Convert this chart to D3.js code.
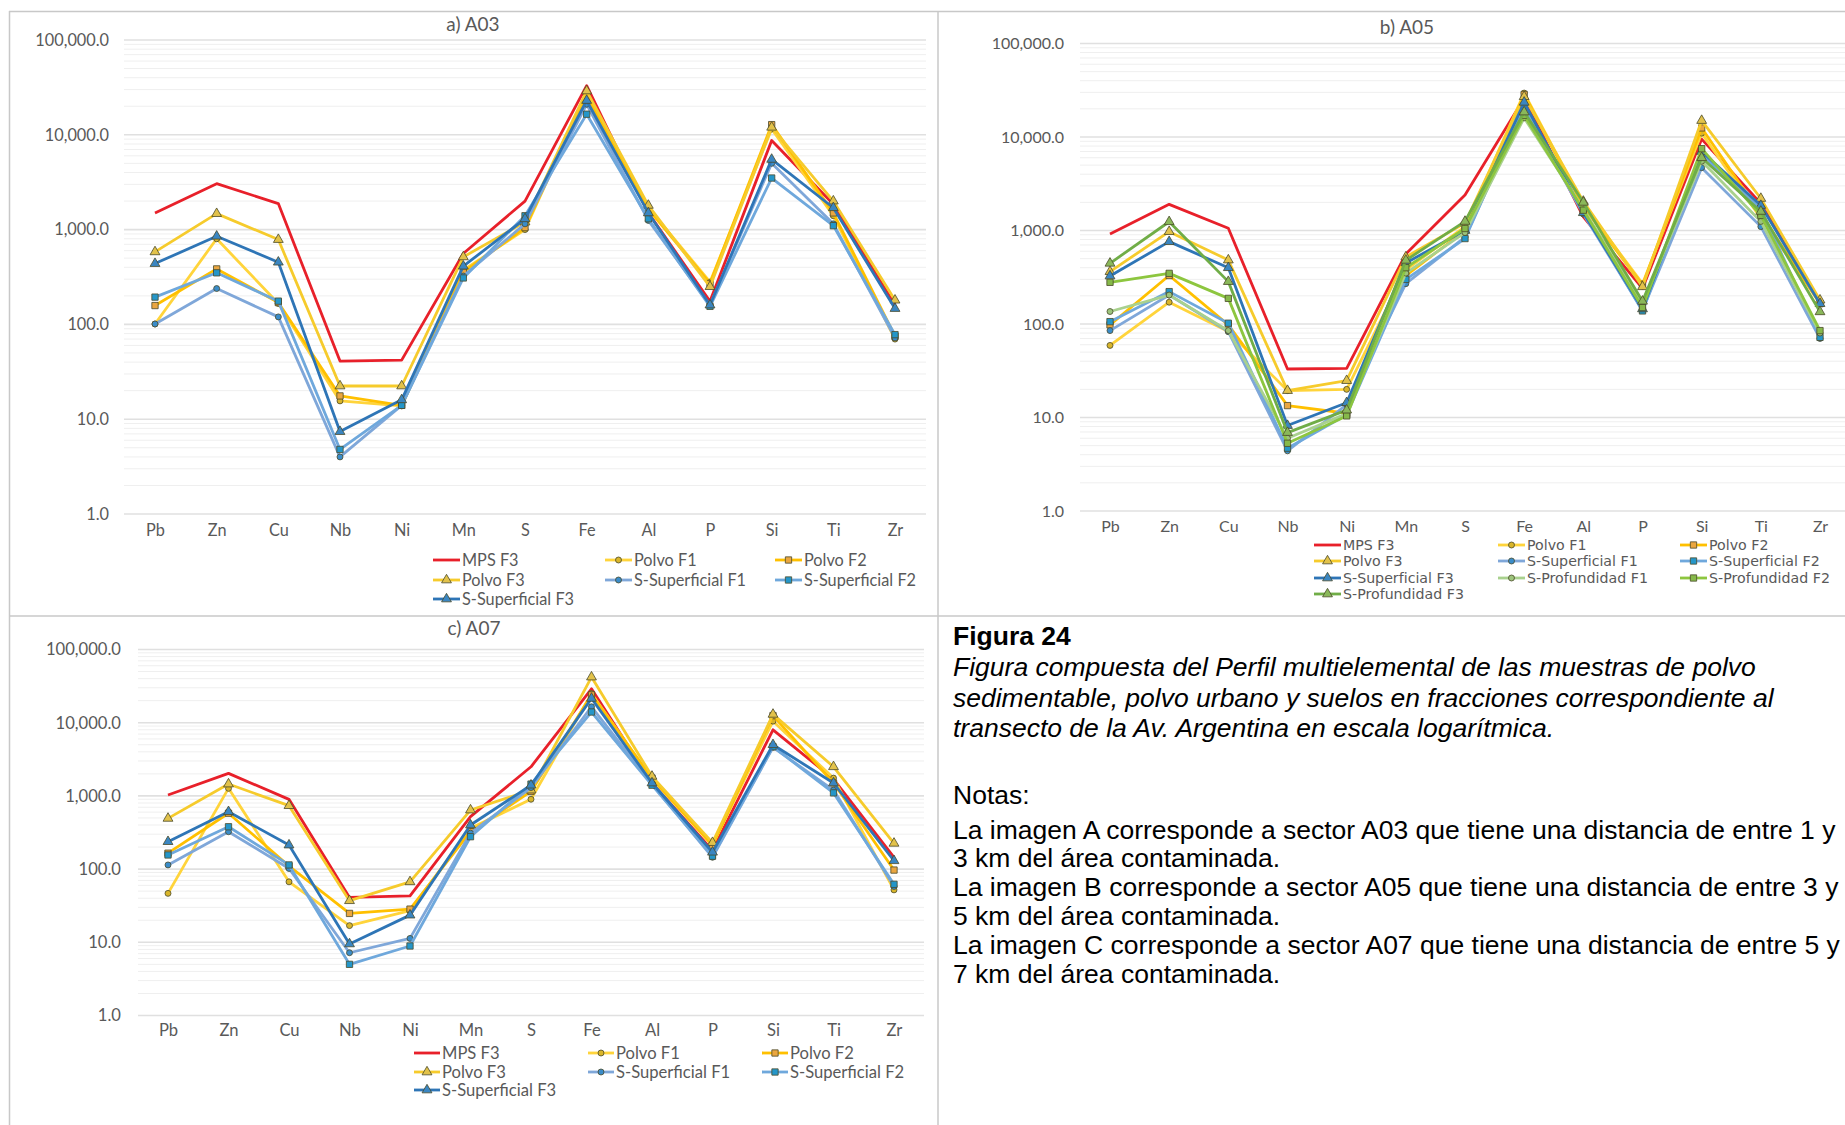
<!DOCTYPE html>
<html lang="es">
<head>
<meta charset="UTF-8">
<title>Figura 24</title>
<script src="https://d3js.org/d3.v7.min.js"></script>
<style>
  body { margin: 0; background: #fff; }
  svg { display: block; }
</style>
</head>
<body>
<svg id="fig" width="1845" height="1125"></svg>
<script>

// ---- data (mg/kg) ----
const elements = ['Pb', 'Zn', 'Cu', 'Nb', 'Ni', 'Mn', 'S', 'Fe', 'Al', 'P', 'Si', 'Ti', 'Zr'];
const yTicks = [1, 10, 100, 1000, 10000, 100000];

// a) A03
const a03_mps_f3   = [1500, 3050, 1880, 41, 42, 560, 2000, 33000, 1500, 175, 8700, 1850, 160];
const a03_polvo_f1 = [101, 800, 166, 15.6, 13.8, 373, 1000, 27000, 1700, 280, 11500, 1400, 70];
const a03_polvo_f2 = [158, 385, 170, 17.6, 14, 355, 1050, 26000, 1650, 270, 12800, 1500, 75];
const a03_polvo_f3 = [582, 1473, 785, 22.4, 22.4, 515, 1200, 29000, 1800, 250, 12000, 2000, 180];
const a03_ssup_f1  = [101, 239, 120, 4.0, 14, 324, 1150, 21000, 1250, 160, 5000, 1150, 72];
const a03_ssup_f2  = [194, 350, 176, 4.8, 14, 309, 1400, 16500, 1300, 155, 3500, 1100, 78];
const a03_ssup_f3  = [438, 851, 453, 7.4, 16, 411, 1300, 23000, 1500, 160, 5500, 1700, 147];

// b) A05
const a05_mps_f3   = [918, 1905, 1055, 33, 33.6, 560, 2400, 26000, 1400, 240, 9500, 1950, 175];
const a05_polvo_f1 = [59, 171, 83, 19.4, 20, 380, 1100, 29500, 1900, 270, 11000, 1350, 170];
const a05_polvo_f2 = [98, 330, 98, 13.4, 11.1, 330, 1000, 28500, 1800, 260, 12500, 1500, 165];
const a05_polvo_f3 = [363, 972, 483, 19.4, 24.8, 520, 1200, 27000, 2050, 250, 15000, 2200, 180];
const a05_ssup_f1  = [85, 204, 83, 4.4, 13.7, 270, 850, 20000, 1500, 140, 4700, 1100, 70];
const a05_ssup_f2  = [106, 222, 102, 4.7, 10.7, 300, 820, 21500, 1600, 138, 6500, 1700, 72];
const a05_ssup_f3  = [326, 760, 400, 8.2, 14.4, 450, 1000, 23500, 1550, 145, 7000, 1850, 165];
const a05_sprof_f1 = [136, 204, 85, 6.0, 11, 350, 950, 16000, 1700, 165, 5500, 1250, 80];
const a05_sprof_f2 = [279, 348, 188, 5.3, 10.4, 400, 1050, 17000, 1650, 150, 7500, 1450, 85];
const a05_sprof_f3 = [446, 1240, 284, 6.9, 12, 480, 1250, 18500, 2000, 175, 6000, 1600, 135];

// c) A07
const a07_mps_f3   = [1028, 2030, 897, 41, 43, 520, 2500, 29000, 1500, 180, 8000, 1700, 145];
const a07_polvo_f1 = [46.6, 1268, 67, 16.9, 27, 360, 900, 25000, 1700, 215, 10500, 1750, 52];
const a07_polvo_f2 = [165, 580, 110, 24.8, 28.4, 324, 1150, 24000, 1750, 210, 12500, 1500, 97];
const a07_polvo_f3 = [493, 1452, 735, 37, 67, 641, 1200, 42000, 1850, 230, 13000, 2500, 225];
const a07_ssup_f1  = [114, 324, 102, 7.2, 11.3, 310, 1300, 16500, 1450, 145, 4600, 1200, 58];
const a07_ssup_f2  = [156, 379, 114, 5.0, 8.9, 277, 1450, 14000, 1400, 150, 4700, 1100, 62];
const a07_ssup_f3  = [237, 608, 213, 9.5, 23.5, 400, 1400, 21500, 1500, 170, 5000, 1500, 130];

// ---- look of each series ----
const style = {
    'MPS F3':           { line: '#e8202a', marker: null },
    'Polvo F1':         { line: '#ffd43b', marker: d3.symbolCircle,   fill: '#d9b52a', size: 28 },
    'Polvo F2':         { line: '#ffc000', marker: d3.symbolSquare,   fill: '#eaa640', size: 40 },
    'Polvo F3':         { line: '#f6cb2c', marker: d3.symbolTriangle, fill: '#e2c24a', size: 42 },
    'S-Superficial F1': { line: '#7fa7d9', marker: d3.symbolCircle,   fill: '#3a8cc9', size: 28 },
    'S-Superficial F2': { line: '#6fa8dc', marker: d3.symbolSquare,   fill: '#2496c9', size: 40 },
    'S-Superficial F3': { line: '#2e75b6', marker: d3.symbolTriangle, fill: '#3a86c2', size: 42 },
    'S-Profundidad F1': { line: '#a9d18e', marker: d3.symbolCircle,   fill: '#9cc47c', size: 28 },
    'S-Profundidad F2': { line: '#8dc63f', marker: d3.symbolSquare,   fill: '#86b94a', size: 40 },
    'S-Profundidad F3': { line: '#70ad47', marker: d3.symbolTriangle, fill: '#8ab85a', size: 42 }
};

const svg = d3.select('#fig');
svg.append('rect').attr('width', 1845).attr('height', 1125).attr('fill', '#fff');

// panel frame
const frame = svg.append('g').attr('stroke', '#c8c8c8').attr('stroke-width', 1.5);
frame.append('line').attr('x1', 9).attr('x2', 1845).attr('y1', 11.5).attr('y2', 11.5);
frame.append('line').attr('x1', 9).attr('x2', 1845).attr('y1', 616).attr('y2', 616);
frame.append('line').attr('x1', 9.5).attr('x2', 9.5).attr('y1', 11).attr('y2', 1125);
frame.append('line').attr('x1', 938).attr('x2', 938).attr('y1', 11).attr('y2', 1125);

function drawChart(cfg) {
    const g = svg.append('g');
    const x = d3.scalePoint().domain(elements).range(cfg.xRange);
    const y = d3.scaleLog().domain([1, 100000]).range(cfg.yRange);

    // minor gridlines (2..9 within each decade)
    const minor = [];
    yTicks.slice(0, -1).forEach(t => { for (let m = 2; m <= 9; m++) minor.push(t * m); });
    g.append('g').selectAll('line').data(minor).join('line')
        .attr('x1', cfg.gridX[0]).attr('x2', cfg.gridX[1])
        .attr('y1', d => y(d)).attr('y2', d => y(d))
        .attr('stroke', '#efefef').attr('stroke-width', 1);
    g.append('g').selectAll('line').data(yTicks).join('line')
        .attr('x1', cfg.gridX[0]).attr('x2', cfg.gridX[1])
        .attr('y1', d => y(d)).attr('y2', d => y(d))
        .attr('stroke', '#e0e0e0').attr('stroke-width', 1.6);

    // axes (labels only)
    const ya = g.append('g').attr('transform', `translate(${cfg.labelX},0)`)
        .call(d3.axisLeft(y).tickValues(yTicks).tickFormat(d3.format(',.1f')).tickSize(0).tickPadding(0));
    const xa = g.append('g').attr('transform', `translate(0,${cfg.xLabelY})`)
        .call(d3.axisBottom(x).tickSize(0).tickPadding(0));
    [ya, xa].forEach(a => {
        a.select('.domain').remove();
        a.selectAll('text').attr('fill', '#595959').style('font-family', 'Lato')
            .style('font-size', cfg.fontSize + 'px');
    });

    // title
    g.append('text').attr('x', cfg.title[1]).attr('y', cfg.title[2])
        .attr('text-anchor', 'middle').attr('fill', '#595959')
        .style('font-family', 'Lato').style('font-size', '19px').text(cfg.title[0]);

    // series
    const line = d3.line().x((d, i) => x(elements[i])).y(d => y(d));
    cfg.series.forEach(s => {
        const st = style[s.name];
        g.append('path').datum(s.values).attr('d', line)
            .attr('fill', 'none').attr('stroke', st.line).attr('stroke-width', 2.8)
            .attr('stroke-linejoin', 'round');
        if (st.marker) {
            g.append('g').selectAll('path').data(s.values).join('path')
                .attr('transform', (d, i) => `translate(${x(elements[i])},${y(d)})`)
                .attr('d', d3.symbol().type(st.marker).size(st.size))
                .attr('fill', st.fill).attr('stroke', '#4a4a2a').attr('stroke-width', 0.8);
        }
    });

    // legend
    const lg = g.append('g');
    cfg.series.forEach((s, i) => {
        const st = style[s.name];
        const lx = cfg.legend.cols[i % 3], ly = cfg.legend.rows[Math.floor(i / 3)];
        lg.append('line').attr('x1', lx).attr('x2', lx + cfg.legend.len)
            .attr('y1', ly).attr('y2', ly).attr('stroke', st.line).attr('stroke-width', 2.8);
        if (st.marker) {
            lg.append('path').attr('transform', `translate(${lx + cfg.legend.len / 2},${ly})`)
                .attr('d', d3.symbol().type(st.marker).size(st.size))
                .attr('fill', st.fill).attr('stroke', '#4a4a2a').attr('stroke-width', 0.8);
        }
        lg.append('text').attr('x', lx + cfg.legend.len + 2).attr('y', ly).attr('dy', '0.35em')
            .attr('fill', '#595959').style('font-family', cfg.legend.font)
            .style('font-size', cfg.legend.size + 'px').text(s.name);
    });
}

drawChart({
    title: ['a) A03', 473, 31],
    xRange: [155, 895], yRange: [514, 40], gridX: [124, 926],
    labelX: 109, xLabelY: 524, fontSize: 16.3,
    series: [
        { name: 'MPS F3', values: a03_mps_f3 },
        { name: 'Polvo F1', values: a03_polvo_f1 },
        { name: 'Polvo F2', values: a03_polvo_f2 },
        { name: 'Polvo F3', values: a03_polvo_f3 },
        { name: 'S-Superficial F1', values: a03_ssup_f1 },
        { name: 'S-Superficial F2', values: a03_ssup_f2 },
        { name: 'S-Superficial F3', values: a03_ssup_f3 }
    ],
    legend: { cols: [433, 605, 775], rows: [560, 580, 599], len: 27, font: 'Lato', size: 16.3 }
});

drawChart({
    title: ['b) A05', 1407, 34],
    xRange: [1110, 1820], yRange: [511, 43.5], gridX: [1080, 1845],
    labelX: 1064, xLabelY: 521, fontSize: 16,
    series: [
        { name: 'MPS F3', values: a05_mps_f3 },
        { name: 'Polvo F1', values: a05_polvo_f1 },
        { name: 'Polvo F2', values: a05_polvo_f2 },
        { name: 'Polvo F3', values: a05_polvo_f3 },
        { name: 'S-Superficial F1', values: a05_ssup_f1 },
        { name: 'S-Superficial F2', values: a05_ssup_f2 },
        { name: 'S-Superficial F3', values: a05_ssup_f3 },
        { name: 'S-Profundidad F1', values: a05_sprof_f1 },
        { name: 'S-Profundidad F2', values: a05_sprof_f2 },
        { name: 'S-Profundidad F3', values: a05_sprof_f3 }
    ],
    legend: { cols: [1314, 1498, 1680], rows: [545, 561, 578, 594], len: 27, font: 'DejaVu Sans', size: 14.2 }
});

drawChart({
    title: ['c) A07', 474, 635],
    xRange: [168, 894], yRange: [1015.5, 649.5], gridX: [138, 924],
    labelX: 121, xLabelY: 1024, fontSize: 16.6,
    series: [
        { name: 'MPS F3', values: a07_mps_f3 },
        { name: 'Polvo F1', values: a07_polvo_f1 },
        { name: 'Polvo F2', values: a07_polvo_f2 },
        { name: 'Polvo F3', values: a07_polvo_f3 },
        { name: 'S-Superficial F1', values: a07_ssup_f1 },
        { name: 'S-Superficial F2', values: a07_ssup_f2 },
        { name: 'S-Superficial F3', values: a07_ssup_f3 }
    ],
    legend: { cols: [414, 588, 762], rows: [1053, 1072, 1090], len: 26, font: 'Lato', size: 16.6 }
});

// ---- caption ----
const caption = svg.append('g').style('font-family', '"Liberation Sans", Arial, sans-serif')
    .style('font-size', '26.5px').attr('fill', '#000');
caption.append('text').attr('x', 953).attr('y', 645).style('font-weight', 'bold').text('Figura 24');
[
    'Figura compuesta del Perfil multielemental de las muestras de polvo',
    'sedimentable, polvo urbano y suelos en fracciones correspondiente al',
    'transecto de la Av. Argentina en escala logarítmica.'
].forEach((t, i) => caption.append('text').attr('x', 953).attr('y', 676 + i * 30.7)
    .style('font-style', 'italic').text(t));
caption.append('text').attr('x', 953).attr('y', 804).text('Notas:');
[
    'La imagen A corresponde a sector A03 que tiene una distancia de entre 1 y',
    '3 km del área contaminada.',
    'La imagen B corresponde a sector A05 que tiene una distancia de entre 3 y',
    '5 km del área contaminada.',
    'La imagen C corresponde a sector A07 que tiene una distancia de entre 5 y',
    '7 km del área contaminada.'
].forEach((t, i) => caption.append('text').attr('x', 953).attr('y', 838.5 + i * 28.8).text(t));

</script>
</body>
</html>
